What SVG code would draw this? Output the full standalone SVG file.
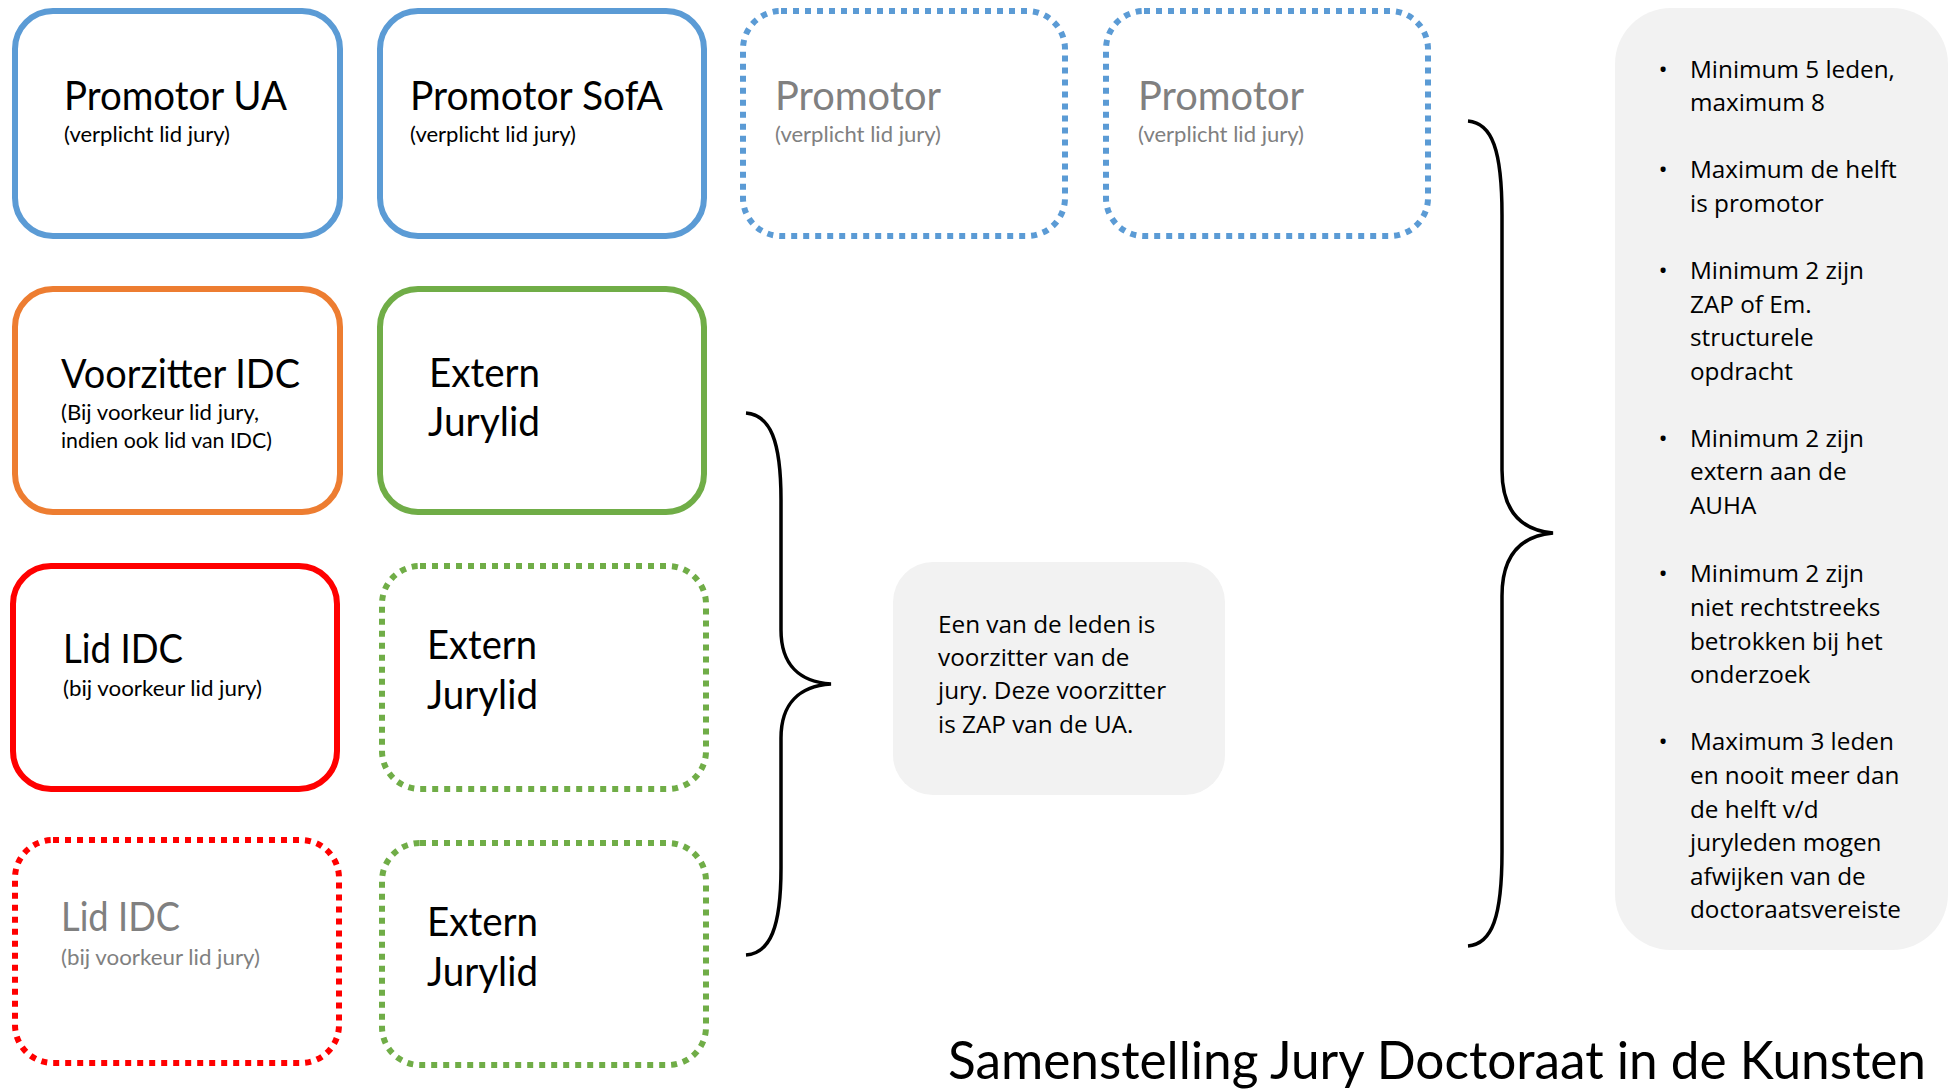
<svg xmlns="http://www.w3.org/2000/svg" width="1950" height="1091" viewBox="0 0 1950 1091">
<style>
.box{fill:#fff;stroke-width:6}
.dot{stroke-dasharray:6 6;stroke-linecap:butt}
.blue{stroke:#5b9bd5}
.orange{stroke:#ed7d31}
.green{stroke:#70ad47}
.red{stroke:#ff0000}
.main{font-family:Lato,"Open Sans",sans-serif;font-size:40px;fill:#000}
.sub{font-family:Lato,"Open Sans",sans-serif;font-size:22px;fill:#000}
.gray{fill:#808080}
.note{fill:#f2f2f2;stroke:none}
.nt{font-family:"Open Sans","Noto Sans",sans-serif;font-size:24.3px;fill:#000}
.brace{fill:none;stroke:#000;stroke-width:3.5}
.title{font-family:Lato,"Open Sans",sans-serif;font-size:52px;fill:#000}
</style>
<rect width="1950" height="1091" fill="#fff"/>
<g id="promotor-ua">
<rect class="box blue" x="15" y="11" width="325" height="225" rx="38"/>
<text class="main" x="64" y="110" textLength="223" lengthAdjust="spacingAndGlyphs">Promotor UA</text>
<text class="sub" x="64" y="142" textLength="166" lengthAdjust="spacingAndGlyphs">(verplicht lid jury)</text>
</g>
<g id="promotor-sofa">
<rect class="box blue" x="380" y="11" width="324" height="225" rx="38"/>
<text class="main" x="410" y="110" textLength="253" lengthAdjust="spacingAndGlyphs">Promotor SofA</text>
<text class="sub" x="410" y="142" textLength="166" lengthAdjust="spacingAndGlyphs">(verplicht lid jury)</text>
</g>
<g id="promotor-3">
<rect class="box blue dot" x="743" y="11" width="322" height="225" rx="38"/>
<text class="main gray" x="775" y="110" textLength="166" lengthAdjust="spacingAndGlyphs">Promotor</text>
<text class="sub gray" x="775" y="142" textLength="166" lengthAdjust="spacingAndGlyphs">(verplicht lid jury)</text>
</g>
<g id="promotor-4">
<rect class="box blue dot" x="1106" y="11" width="322" height="225" rx="38"/>
<text class="main gray" x="1138" y="110" textLength="166" lengthAdjust="spacingAndGlyphs">Promotor</text>
<text class="sub gray" x="1138" y="142" textLength="166" lengthAdjust="spacingAndGlyphs">(verplicht lid jury)</text>
</g>
<g id="voorzitter-idc">
<rect class="box orange" x="15" y="289" width="325" height="223" rx="38"/>
<text class="main" x="61" y="388" textLength="239" lengthAdjust="spacingAndGlyphs">Voorzitter IDC</text>
<text class="sub" x="61" y="420" textLength="198" lengthAdjust="spacingAndGlyphs">(Bij voorkeur lid jury,</text>
<text class="sub" x="61" y="448" textLength="211" lengthAdjust="spacingAndGlyphs">indien ook lid van IDC)</text>
</g>
<g id="extern-1">
<rect class="box green" x="380" y="289" width="324" height="223" rx="38"/>
<text class="main" x="429" y="387" textLength="111" lengthAdjust="spacingAndGlyphs">Extern</text>
<text class="main" x="428" y="436" textLength="112" lengthAdjust="spacingAndGlyphs">Jurylid</text>
</g>
<g id="lid-idc">
<rect class="box red" x="13" y="566" width="324" height="223" rx="38"/>
<text class="main" x="63" y="663" textLength="120" lengthAdjust="spacingAndGlyphs">Lid IDC</text>
<text class="sub" x="63" y="696" textLength="199" lengthAdjust="spacingAndGlyphs">(bij voorkeur lid jury)</text>
</g>
<g id="extern-2">
<rect class="box green dot" x="382" y="566" width="324" height="223" rx="38"/>
<text class="main" x="427" y="659" textLength="110" lengthAdjust="spacingAndGlyphs">Extern</text>
<text class="main" x="427" y="709" textLength="111" lengthAdjust="spacingAndGlyphs">Jurylid</text>
</g>
<g id="lid-idc-2">
<rect class="box red dot" x="15" y="840" width="324" height="223" rx="38"/>
<text class="main gray" x="61" y="931" textLength="119" lengthAdjust="spacingAndGlyphs">Lid IDC</text>
<text class="sub gray" x="61" y="965" textLength="199" lengthAdjust="spacingAndGlyphs">(bij voorkeur lid jury)</text>
</g>
<g id="extern-3">
<rect class="box green dot" x="382" y="843" width="324" height="222" rx="38"/>
<text class="main" x="427" y="936" textLength="111" lengthAdjust="spacingAndGlyphs">Extern</text>
<text class="main" x="427" y="986" textLength="111" lengthAdjust="spacingAndGlyphs">Jurylid</text>
</g>
<g id="connectors">
<path class="brace" d="M746,413 C770,415 781,440 781,500 L781,630 C781,665 800,682 831,684 C800,686 781,703 781,738 L781,868 C781,928 770,953 746,955"/>
<path class="brace" d="M1468,121 C1492,123 1502,150 1502,215 L1502,470 C1502,510 1520,530 1553,533 C1520,536 1502,556 1502,596 L1502,852 C1502,917 1492,944 1468,946"/>
</g>
<g id="note-voorzitter">
<rect class="note" x="893" y="562" width="332" height="233" rx="40"/>
<text class="nt" x="938" y="633">Een van de leden is</text>
<text class="nt" x="938" y="666">voorzitter van de</text>
<text class="nt" x="938" y="699">jury. Deze voorzitter</text>
<text class="nt" x="938" y="733">is ZAP van de UA.</text>
</g>
<g id="note-rules">
<rect class="note" x="1615" y="8" width="333" height="942" rx="56"/>
<g class="nt">
<text x="1663" y="78" text-anchor="middle">•</text>
<text x="1690" y="78">Minimum 5 leden,</text>
<text x="1690" y="111">maximum 8</text>
<text x="1663" y="178" text-anchor="middle">•</text>
<text x="1690" y="178">Maximum de helft</text>
<text x="1690" y="212">is promotor</text>
<text x="1663" y="279" text-anchor="middle">•</text>
<text x="1690" y="279">Minimum 2 zijn</text>
<text x="1690" y="313">ZAP of Em.</text>
<text x="1690" y="346">structurele</text>
<text x="1690" y="380">opdracht</text>
<text x="1663" y="447" text-anchor="middle">•</text>
<text x="1690" y="447">Minimum 2 zijn</text>
<text x="1690" y="480">extern aan de</text>
<text x="1690" y="514">AUHA</text>
<text x="1663" y="582" text-anchor="middle">•</text>
<text x="1690" y="582">Minimum 2 zijn</text>
<text x="1690" y="616">niet rechtstreeks</text>
<text x="1690" y="650">betrokken bij het</text>
<text x="1690" y="683">onderzoek</text>
<text x="1663" y="750" text-anchor="middle">•</text>
<text x="1690" y="750">Maximum 3 leden</text>
<text x="1690" y="784">en nooit meer dan</text>
<text x="1690" y="818">de helft v/d</text>
<text x="1690" y="851">juryleden mogen</text>
<text x="1690" y="885">afwijken van de</text>
<text x="1690" y="918">doctoraatsvereiste</text>
</g>
</g>
<g id="title">
<text class="title" x="948" y="1079" textLength="978" lengthAdjust="spacingAndGlyphs">Samenstelling Jury Doctoraat in de Kunsten</text>
</g>
</svg>
